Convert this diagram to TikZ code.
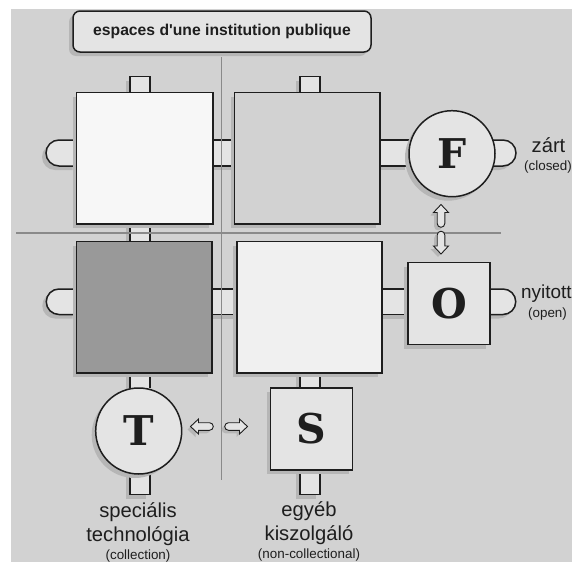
\documentclass[tikz,border=0pt]{standalone}
\usepackage{fontspec}
\setmainfont{Liberation Sans}
\newfontfamily\plainsans{Liberation Sans}
\newfontfamily\letterfont{DejaVu Serif}
\usetikzlibrary{shadows,backgrounds}
\definecolor{bgc}{HTML}{D2D2D2}
\definecolor{shc}{HTML}{B6B6B6}
\definecolor{stubc}{HTML}{E4E4E4}
\definecolor{inkc}{HTML}{1E1E1E}
\definecolor{axisc}{HTML}{8A8A8A}
\tikzset{
  x=1pt,y=-1pt,
  shad/.style={drop shadow={shadow xshift=-4pt,shadow yshift=-4pt,fill=shc,opacity=1}},
  room/.style={draw=inkc,line width=1.5pt,inner sep=0pt,outer sep=0pt,shad},
  letterbox/.style={room,fill=stubc,minimum size=82pt,font=\letterfont\bfseries\fontsize{41}{41}\selectfont,text=inkc},
  lettercirc/.style={room,circle,fill=stubc,minimum size=86pt,font=\letterfont\bfseries\fontsize{41}{41}\selectfont,text=inkc},
  stubline/.style={draw=inkc,line width=1.5pt},
  axisline/.style={draw=axisc,line width=1.4pt},
  bigtxt/.style={text=inkc,anchor=base,inner sep=0pt,font=\fontsize{20.2}{20.2}\selectfont},
  smalltxt/.style={text=inkc,anchor=base,inner sep=0pt,font=\fontsize{13.4}{13.4}\selectfont},
  arrowshape/.style={draw=inkc,fill=stubc,line width=0.9pt,
     drop shadow={shadow xshift=-3pt,shadow yshift=-3pt,fill=shc,opacity=1}}
}
\newcommand{\hlink}[4]{% from, to, top y, bottom y
  \fill[stubc,shad] (#1.east |- #3) rectangle (#2.west |- #4);
  \draw[stubline] (#1.east |- #3) -- (#2.west |- #3) (#1.east |- #4) -- (#2.west |- #4);}
\newcommand{\vlink}[4]{% from, to, left x, right x
  \fill[stubc,shad] (#3 |- #1.south) rectangle (#4 |- #2.north);
  \draw[stubline] (#3 |- #1.south) -- (#3 |- #2.north) (#4 |- #1.south) -- (#4 |- #2.north);}
\newcommand{\arrowglyph}[3]{% x, y, rotation (points up at 0)
  \draw[arrowshape,shift={(#1,#2)},rotate=#3]
    (0,-11) -- (7.5,-3) -- (3.8,-3) -- (3.8,8) arc[start angle=0,end angle=180,radius=3.8] -- (-3.8,-3) -- (-7.5,-3) -- cycle;}
\begin{document}
\begin{tikzpicture}
\useasboundingbox (0,0) rectangle (572,562);
\coordinate (r1t) at (0,140);
\coordinate (r1b) at (0,166);
\coordinate (r2t) at (0,289);
\coordinate (r2b) at (0,314.5);
\coordinate (c1l) at (130,0);
\coordinate (c1r) at (150,0);
\coordinate (c2l) at (300,0);
\coordinate (c2r) at (320,0);
% rooms
\node[room,fill=stubc,rounded corners=7pt,minimum width=298pt,minimum height=41pt,
  font=\plainsans\bfseries\fontsize{15.7}{15.7}\selectfont,text=inkc] (title) at (222,31.5) {espaces d'une institution publique};
\node[room,fill=white!97!black,minimum width=136.5pt,minimum height=131.5pt] (A) at (144.75,158.25) {};
\node[room,fill=bgc,minimum width=145.5pt,minimum height=131.5pt] (B) at (307.25,158.25) {};
\node[room,fill=black!40!white,minimum width=135.5pt,minimum height=131.5pt] (C) at (144.25,307.25) {};
\node[room,fill=white!94!black,minimum width=145pt,minimum height=131.5pt] (D) at (309.5,307.25) {};
\node[lettercirc] (F) at (452,153.7) {F};
\node[letterbox] (O) at (449,303.5) {O};
\node[lettercirc] (T) at (138.7,431) {T};
\node[letterbox] (S) at (311.5,429) {S};
% stubs lie behind the rooms and their shadows
\begin{scope}[on background layer]
\fill[bgc] (11,9) rectangle (572,562);
\hlink{A}{B}{r1t}{r1b}
\hlink{B}{F}{r1t}{r1b}
\hlink{C}{D}{r2t}{r2b}
\hlink{D}{O}{r2t}{r2b}
\vlink{A}{C}{c1l}{c1r}
\vlink{C}{T}{c1l}{c1r}
\vlink{D}{S}{c2l}{c2r}
\draw[stubline,fill=stubc,shad] (A.west |- r1t) -- (59,140) arc[start angle=-90,end angle=-270,radius=13] -- (A.west |- r1b);
\draw[stubline,fill=stubc,shad] (C.west |- r2t) -- (59,289) arc[start angle=-90,end angle=-270,radius=12.75] -- (C.west |- r2b);
\draw[stubline,fill=stubc,shad] (F.center |- r1t) -- (503,140) arc[start angle=-90,end angle=90,radius=13] -- (F.center |- r1b);
\draw[stubline,fill=stubc,shad] (O.center |- r2t) -- (503,289) arc[start angle=-90,end angle=90,radius=12.75] -- (O.center |- r2b);
\draw[stubline,fill=stubc,shad] (c1l |- A.north) -- (130,76.5) -- (150,76.5) -- (c1r |- A.north);
\draw[stubline,fill=stubc,shad] (c2l |- B.north) -- (300,76.5) -- (320,76.5) -- (c2r |- B.north);
\draw[stubline,fill=stubc,shad] (c1l |- T.center) -- (130,494.5) -- (150,494.5) -- (c1r |- T.center);
\draw[stubline,fill=stubc,shad] (c2l |- S.center) -- (300,494.5) -- (320,494.5) -- (c2r |- S.center);
\end{scope}
% axes
\coordinate (vtop) at (221.5,57);
\coordinate (vbot) at (221.5,480);
\coordinate (hleft) at (16,233);
\coordinate (hright) at (501,233);
\draw[axisline] (vtop) -- (vbot);
\draw[axisline] (hleft) -- (hright);
% double arrows
\arrowglyph{441}{215.5}{0}
\arrowglyph{441}{243}{180}
\arrowglyph{201.5}{426.5}{90}
\arrowglyph{236.5}{426.5}{-90}
% labels
\node[bigtxt] (l1) at (548.5,152.5) {zárt};
\node[smalltxt] (l2) at (548,170) {(closed)};
\node[bigtxt,anchor=base west,font=\fontsize{18.9}{18.9}\selectfont] (l3) at (521,298) {nyitott};
\node[smalltxt] (l4) at (547.5,317) {(open)};
\node[bigtxt] (l5) at (138,517) {speciális};
\node[bigtxt] (l6) at (138,541) {technológia};
\node[smalltxt] (l7) at (138,559) {(collection)};
\node[bigtxt] (l8) at (309,516) {egyéb};
\node[bigtxt] (l9) at (309,540) {kiszolgáló};
\node[smalltxt] (l10) at (309,558) {(non-collectional)};
\end{tikzpicture}
\end{document}
